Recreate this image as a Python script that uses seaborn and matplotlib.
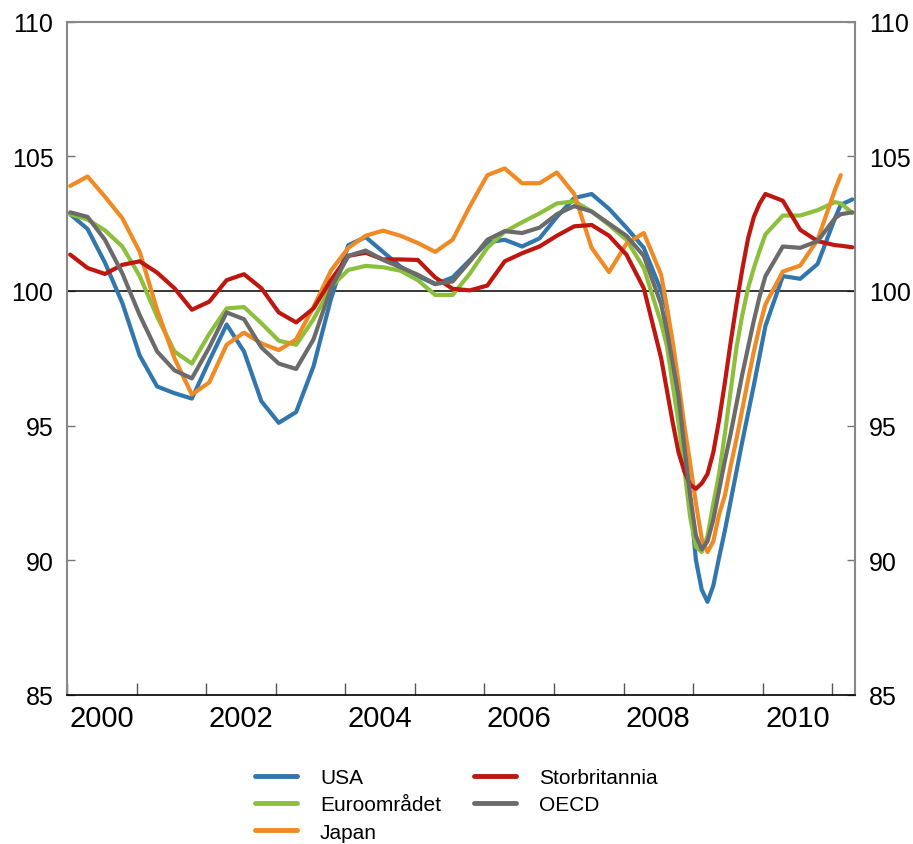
import pandas as pd
import numpy as np
import matplotlib
matplotlib.use('Agg')
import matplotlib.pyplot as plt
from matplotlib.lines import Line2D
import seaborn as sns

# Observation months (quarterly, monthly through the 2008-09 crisis)
dates = ['2000-01', '2000-04', '2000-07', '2000-10', '2001-01', '2001-04', '2001-07', '2001-10',
         '2002-01', '2002-04', '2002-07', '2002-10', '2003-01', '2003-04', '2003-07', '2003-10',
         '2004-01', '2004-04', '2004-07', '2004-10', '2005-01', '2005-04', '2005-07', '2005-10',
         '2006-01', '2006-04', '2006-07', '2006-10', '2007-01', '2007-04', '2007-07', '2007-10',
         '2008-01', '2008-04',
         '2008-07', '2008-08', '2008-09', '2008-10', '2008-11', '2008-12',
         '2009-01', '2009-02', '2009-03', '2009-04', '2009-05', '2009-06',
         '2009-07', '2009-08', '2009-09', '2009-10', '2009-11', '2009-12', '2010-01',
         '2010-04', '2010-07', '2010-10', '2011-01', '2011-02', '2011-04']

usa = [102.85, 102.3, 101.05, 99.55, 97.6, 96.45, 96.2, 96.0,
       97.4, 98.75, 97.75, 95.9, 95.1, 95.5, 97.2, 99.7,
       101.7, 102.0, 101.45, 100.9, 100.55, 100.25, 100.5, 101.15,
       101.8, 101.9, 101.65, 101.95, 102.75, 103.45, 103.6, 103.05,
       102.35, 101.6,
       100.0, 99.3, 97.7, 96.0, 94.2, 92.3,
       90.0, 88.9, 88.45, 89.05, 90.1, 91.1,
       92.2, 93.3, 94.4, 95.45, 96.5, 97.6, 98.7,
       100.55, 100.45, 101.0, 102.7, 103.2, 103.4]

euro = [102.85, 102.65, 102.25, 101.65, 100.55, 99.05, 97.75, 97.3,
        98.4, 99.35, 99.4, 98.8, 98.15, 98.0, 98.95, 100.15,
        100.78, 100.93, 100.88, 100.75, 100.4, 99.85, 99.85, 100.65,
        101.6, 102.2, 102.55, 102.88, 103.25, 103.33, 102.95, 102.45,
        101.9, 100.85,
        98.8, 97.95, 96.5, 95.1, 93.4, 91.6,
        90.5, 90.3, 90.9, 92.1, 93.2, 94.7,
        96.3, 97.9, 99.1, 100.1, 100.85, 101.5, 102.1,
        102.8, 102.8, 103.0, 103.3, 103.25, 102.9]

japan = [103.9, 104.25, 103.5, 102.7, 101.45, 99.3, 97.5, 96.15,
         96.6, 98.0, 98.45, 98.05, 97.8, 98.2, 99.4, 100.75,
         101.6, 102.05, 102.24, 102.05, 101.78, 101.45, 101.9, 103.15,
         104.3, 104.55, 104.0, 104.0, 104.4, 103.6, 101.6, 100.7,
         101.75, 102.15,
         100.6, 99.4, 98.1, 96.6, 95.0, 93.6,
         92.1, 90.8, 90.3, 90.7, 91.7, 92.4,
         93.5, 94.5, 95.6, 96.7, 97.75, 98.7, 99.5,
         100.72, 100.94, 101.9, 103.75, 104.3, np.nan]

uk = [101.35, 100.85, 100.63, 100.97, 101.1, 100.68, 100.1, 99.3,
      99.6, 100.4, 100.62, 100.1, 99.2, 98.83, 99.35, 100.4,
      101.3, 101.42, 101.17, 101.17, 101.15, 100.5, 100.08, 100.02,
      100.2, 101.1, 101.4, 101.65, 102.05, 102.4, 102.45, 102.05,
      101.35, 100.1,
      97.5, 96.3, 95.1, 94.0, 93.3, 92.8,
      92.65, 92.85, 93.2, 94.0, 95.2, 96.6,
      98.1, 99.5, 100.8, 101.95, 102.75, 103.25, 103.6,
      103.35, 102.27, 101.85, 101.7, 101.68, 101.62]

oecd = [102.92, 102.75, 101.9, 100.65, 99.1, 97.75, 97.05, 96.75,
        97.9, 99.2, 98.95, 97.9, 97.3, 97.1, 98.2, 100.1,
        101.3, 101.5, 101.15, 100.88, 100.6, 100.26, 100.35, 101.1,
        101.9, 102.22, 102.15, 102.35, 102.85, 103.15, 102.95, 102.5,
        102.05, 101.3,
        99.5, 98.5, 97.3, 96.1, 94.2, 92.4,
        90.9, 90.4, 90.7, 91.5, 92.6, 93.7,
        94.7, 95.8, 96.9, 97.9, 98.9, 99.8, 100.55,
        101.65, 101.6, 101.85, 102.7, 102.85, 102.92]

names = ['USA', 'Euroområdet', 'Japan', 'Storbritannia', 'OECD']
colors = ['#3276ae', '#8cc03c', '#f08a24', '#bf1710', '#6b6b6b']

# Build long-form table
d = pd.to_datetime(dates)
t = d.year + (d.month - 0.5) / 12
df = pd.DataFrame({'t': t, 'USA': usa, 'Euroområdet': euro, 'Japan': japan,
                   'Storbritannia': uk, 'OECD': oecd})
long = df.melt(id_vars='t', var_name='serie', value_name='verdi').dropna()

sns.set_style('white')
plt.rcParams['font.family'] = ['Liberation Sans', 'DejaVu Sans']
plt.rcParams['text.color'] = 'black'
plt.rcParams['xtick.color'] = 'black'
plt.rcParams['ytick.color'] = 'black'

fig = plt.figure(figsize=(9.13, 8.45), dpi=100)
ax = fig.add_axes([0.0737, 0.1767, 0.8628, 0.7964])

ax.axhline(100, color='black', lw=1.1, zorder=1)
sns.lineplot(data=long, x='t', y='verdi', hue='serie', hue_order=names,
             palette=colors, linewidth=3.0, legend=False, ax=ax, zorder=3,
             solid_joinstyle='round', solid_capstyle='round')

ax.set_xlim(2000, 2011.33)
ax.set_ylim(85, 110)
ax.set_xlabel('')
ax.set_ylabel('')

# x: tick marks at each year start, labels centred in even years
ax.set_xticks(range(2000, 2012))
ax.set_xticklabels([])
ax.set_xticks([y + 0.5 for y in range(2000, 2011, 2)], minor=True)
ax.set_xticklabels([str(y) for y in range(2000, 2011, 2)], minor=True, fontsize=21)
ax.tick_params(axis='x', which='major', direction='in', length=9, width=1, color='#555555', bottom=True)
ax.tick_params(axis='x', which='minor', length=0, pad=7, labelsize=21, labelcolor='black')

ax.set_yticks(range(85, 111, 5))
ax.tick_params(axis='y', direction='in', length=6, width=1, color='#777777', labelcolor='black',
               left=True, right=True, labelleft=True, labelright=True, labelsize=18, pad=10)

for s in ['left', 'right', 'top']:
    ax.spines[s].set_color('#888888')
    ax.spines[s].set_linewidth(1.5)
ax.spines['bottom'].set_color('black')
ax.spines['bottom'].set_linewidth(1.2)

handles = [Line2D([0], [0], color=c, lw=3.5) for c in colors]
fig.legend(handles, names, loc='upper center', bbox_to_anchor=(0.5, 0.112), ncol=2,
           frameon=False, fontsize=15, handlelength=2.0, handletextpad=1.1,
           columnspacing=1.6, labelspacing=0.4)

fig.savefig('out.png', dpi=100, facecolor='white')
